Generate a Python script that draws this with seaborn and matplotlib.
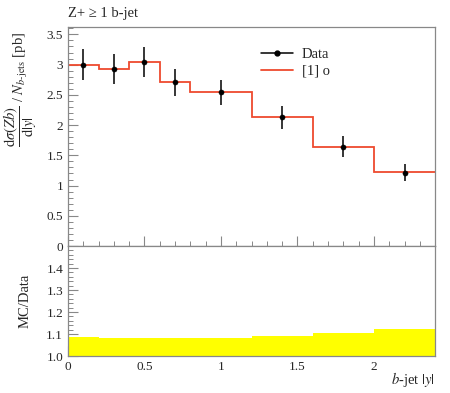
import numpy as np
import matplotlib
matplotlib.use("Agg")
import matplotlib.pyplot as plt
import seaborn as sns

# ---- data ----
bin_edges = [0.0, 0.2, 0.4, 0.6, 0.8, 1.2, 1.6, 2.0, 2.4]
bin_centers = [0.1, 0.3, 0.5, 0.7, 1.0, 1.4, 1.8, 2.2]
data_vals = [3.00, 2.93, 3.04, 2.71, 2.54, 2.13, 1.64, 1.215]
data_errs = [0.255, 0.243, 0.25, 0.222, 0.203, 0.19, 0.172, 0.148]
mc_vals = [3.00, 2.93, 3.04, 2.71, 2.54, 2.14, 1.64, 1.22]
main_yticks = [0, 0.5, 1, 1.5, 2, 2.5, 3, 3.5]
ratio_yticks = [1.0, 1.1, 1.2, 1.3, 1.4]
xticks = [0, 0.5, 1, 1.5, 2]

sns.set_style("ticks")
plt.rcParams['font.family'] = ['Liberation Serif', 'DejaVu Serif']
plt.rcParams['mathtext.fontset'] = 'stix'

RED = '#EE4A2E'
GREY = '#888888'

fig = plt.figure(figsize=(4.5, 3.93), dpi=100)
ax = fig.add_axes([0.151, 0.374, 0.816, 0.557])
rax = fig.add_axes([0.151, 0.094, 0.816, 0.280])

edges = np.array(bin_edges)
dv = np.array(data_vals)
de = np.array(data_errs)

# main panel
ax.stairs(mc_vals, edges, baseline=None, color=RED, lw=1.3, label='[1] o', zorder=2)
ax.errorbar(bin_centers, data_vals, yerr=data_errs, fmt='none', ecolor='black', elinewidth=1.1, zorder=3)
sns.scatterplot(x=bin_centers, y=data_vals, ax=ax, color='black', s=14, marker='o', edgecolor='black', zorder=4)
ax.plot([], [], color='black', marker='o', ms=3.5, lw=1.1, label='Data')

handles, labels = ax.get_legend_handles_labels()
order = [labels.index('Data'), labels.index('[1] o')]
ax.legend([handles[i] for i in order], [labels[i] for i in order], loc='upper left',
          bbox_to_anchor=(0.49, 0.965), frameon=False, fontsize=10.5, handlelength=2.2,
          handletextpad=0.6, labelspacing=0.25)

ax.set_xlim(0, 2.4)
ax.set_ylim(0, 3.62)
ax.set_yticks(main_yticks)
ax.set_yticklabels([('%g' % t) for t in main_yticks])
ax.set_yticks(np.arange(0, 3.61, 0.1), minor=True)
ax.set_xticks(xticks)
ax.set_xticks(np.arange(0, 2.41, 0.1), minor=True)
ax.tick_params(axis='x', labelbottom=False)
ax.set_ylabel(r'$\dfrac{\mathrm{d}\sigma(Zb)}{\mathrm{d}|y|}$ / $N_{b\text{-jets}}$ [pb]', fontsize=10.5)
ax.yaxis.set_label_coords(-0.078, 0.98)
ax.yaxis.label.set_ha('right')

# ratio panel
rel = de / dv
rax.stairs(1 + rel, edges, baseline=1 - rel, fill=True, color='#FFFF00', lw=0, zorder=1)
rax.set_xlim(0, 2.4)
rax.set_ylim(1.0, 1.5)
rax.set_yticks(ratio_yticks)
rax.set_yticklabels(['%.1f' % t for t in ratio_yticks])
rax.set_yticks(np.arange(1.0, 1.5, 0.02), minor=True)
rax.set_xticks(xticks)
rax.set_xticklabels([('%g' % t) for t in xticks])
rax.set_xticks(np.arange(0, 2.41, 0.1), minor=True)
rax.set_ylabel('MC/Data', fontsize=10.5)
rax.yaxis.set_label_coords(-0.1, 0.5)

for a in (ax, rax):
    a.tick_params(which='both', direction='in', color=GREY, labelsize=9.5, top=False, right=False)
    a.tick_params(which='major', length=7, width=0.8)
    a.tick_params(which='minor', length=3.5, width=0.7)
    for s in a.spines.values():
        s.set_color(GREY)
        s.set_linewidth(0.9)
        s.set_visible(True)

fig.text(0.151, 0.965, 'Z+ ≥ 1 b-jet', fontsize=10.5, ha='left', va='center')
fig.text(0.967, 0.035, r'$b$-jet $|y|$', fontsize=10.5, ha='right', va='center')

fig.savefig('out.png', dpi=100)
